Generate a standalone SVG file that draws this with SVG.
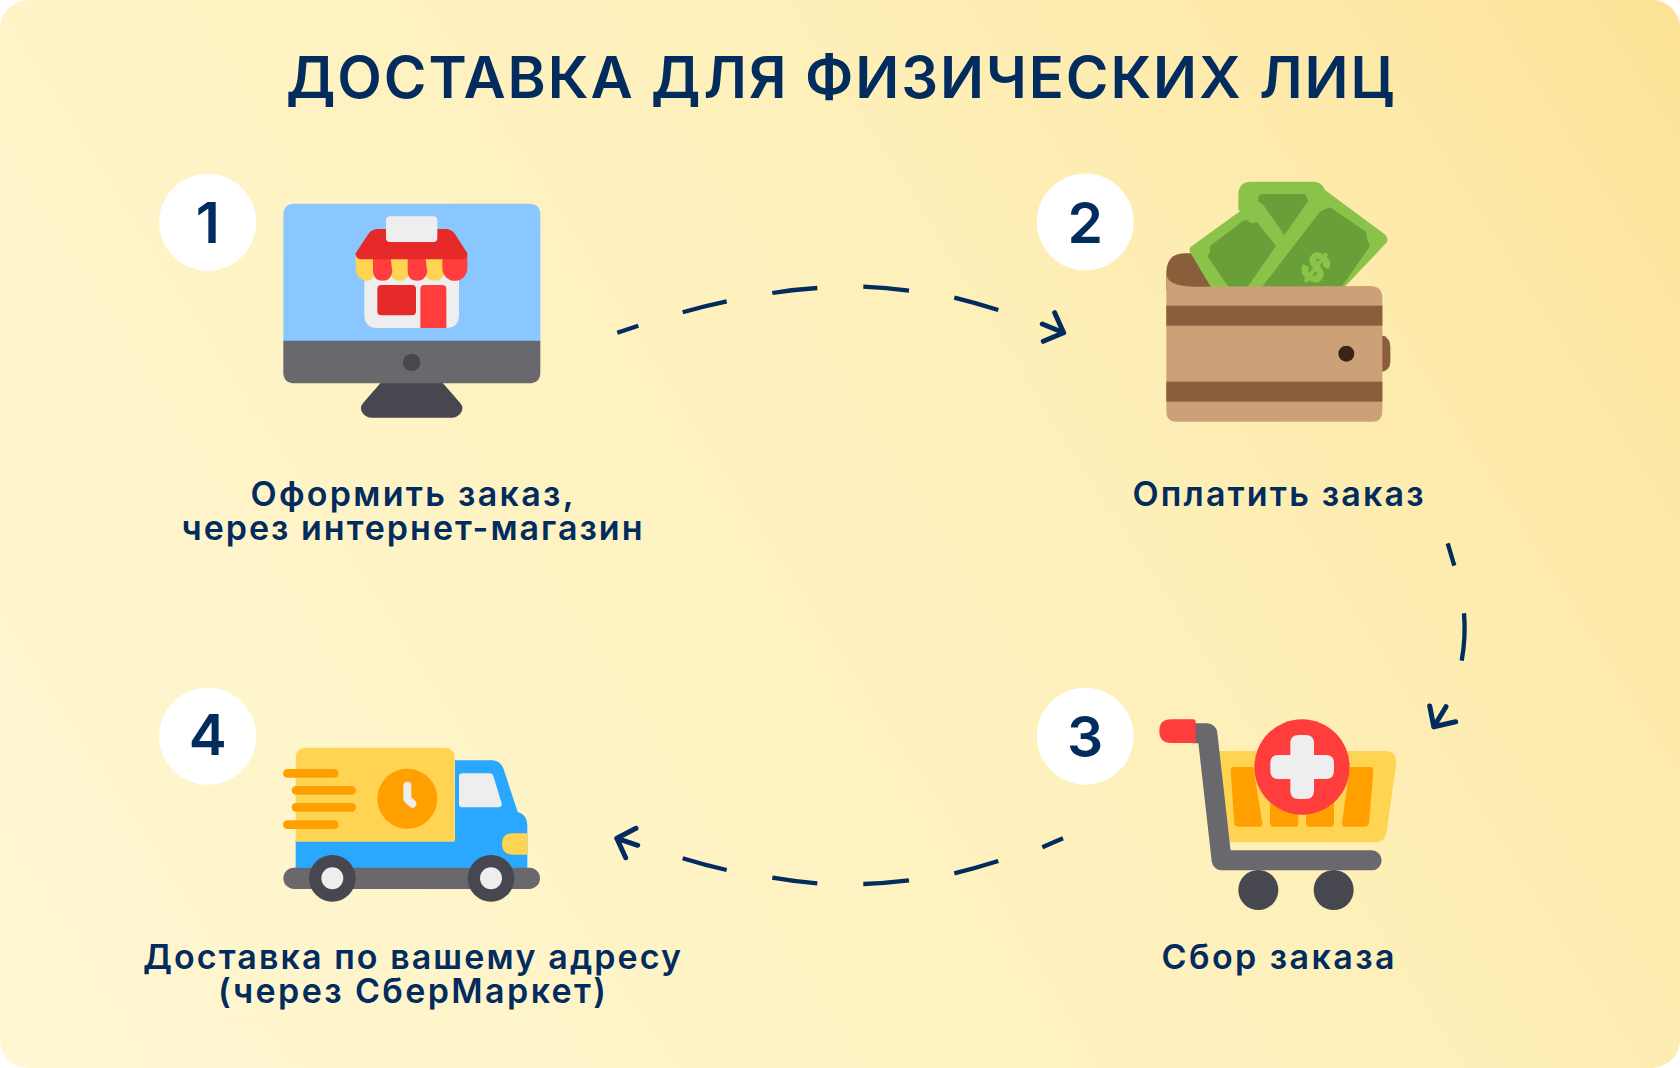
<svg xmlns="http://www.w3.org/2000/svg" width="1680" height="1068" viewBox="0 0 1680 1068">
<style>
text{font-family:"Inter","Noto Sans","Liberation Sans",sans-serif;fill:#022b5e}
.t{font-size:58px;font-weight:600}
.l{font-size:34px;font-weight:600;text-anchor:middle}
.n{font-size:57px;font-weight:600;text-anchor:middle}
.c{fill:#fff}
.con{fill:none;stroke:#022b5e;stroke-width:4.3}
.arr{stroke-linejoin:round;stroke-linecap:round;stroke-width:5}
.gy{fill:#69686d}.dk{fill:#47474f}.wh{fill:#eee}.ye{fill:#ffd452}.or{fill:#ffa000}.re{fill:#ff3d3d}.dr{fill:#e62a2a}
.br{fill:#8a5d3b}.ta{fill:#cda177}.lg{fill:#8bc34a}.dg{fill:#689f38}.bl{fill:#2aa7ff}
</style>
<defs>
<linearGradient id="bg" gradientUnits="userSpaceOnUse" x1="0" y1="1068" x2="1680" y2="0">
<stop offset="0" stop-color="#fff7d3"/>
<stop offset=".6" stop-color="#fef0ba"/>
<stop offset=".85" stop-color="#fde9a8"/>
<stop offset="1" stop-color="#fde295"/>
</linearGradient>
</defs>
<rect width="1680" height="1068" fill="#fff"/>
<rect id="background" width="1680" height="1068" rx="28" fill="url(#bg)"/>
<text id="title" class="t" x="286" y="98" textLength="1108" lengthAdjust="spacing">ДОСТАВКА ДЛЯ ФИЗИЧЕСКИХ ЛИЦ</text>

<g id="connectors" class="con">
<path d="M617.3 332.7L638.3 325.7M682.7 312.3Q704 306 726.7 301.3M772.3 293Q794 289.5 817.3 288M863.3 286.7Q886 287.5 909 290.7M954.3 297.7Q976 303 998.3 310"/>
<path class="arr" d="M1054.7 312.7L1063.6 332.7L1043.3 341.3M1042.3 324L1063.6 332.7"/>
<path d="M1447.7 543.3L1454.3 565.7M1464 613.3Q1466 637 1461.7 660.7"/>
<path class="arr" d="M1429.7 706L1433.8 726.8L1455.7 721.7M1446 706.7L1433.8 726.8"/>
<path d="M1063 838.3L1042.3 847.3M998.3 861Q976 868 954.3 873.3M909 880.3Q886 883 863.3 884M817.3 883.3Q794 881.5 772.3 877.7M726.7 870Q704 865 682.7 858.3"/>
<path class="arr" d="M636 828.3L616.8 838.3L625.7 857.7M637.7 845.3L616.8 838.3"/>
</g>

<g id="step1">
<circle class="c" cx="207.7" cy="222.2" r="48.5"/>
<text class="n" x="207.7" y="243.3">1</text>
<g transform="translate(150 160) scale(.33333)">
<path class="dk" d="M695 665L875 665L930 728Q945 745 930 762Q920 773 905 773L665 773Q650 773 640 762Q625 745 640 728Z"/>
<path fill="#8ac6ff" d="M400 165Q400 131 434 131L1137 131Q1171 131 1171 165L1171 545L400 545Z"/>
<path class="gy" d="M400 542L1171 542L1171 636Q1171 670 1137 670L434 670Q400 670 400 636Z"/>
<circle class="dk" cx="785" cy="607" r="26"/>
<path class="wh" d="M643 340L927 340L927 464Q927 504 887 504L683 504Q643 504 643 464Z"/>
<rect class="dr" x="682" y="375" width="116" height="91" rx="12"/>
<path class="re" d="M811 387Q811 375 823 375L877 375Q889 375 889 387L889 504L811 504Z"/>
<path class="ye" d="M617 285L669 285L675 325Q672 362 655 362Q617 362 617 320Z"/>
<path class="ye" d="M721 285L773 285L780 335Q772 362 750 362Q722 362 721 335Z"/>
<path class="ye" d="M825 285L877 285L885 335Q877 362 855 362Q827 362 825 335Z"/>
<path class="re" d="M669 285L721 285L727 335Q722 362 698 362Q672 362 669 335Z"/>
<path class="re" d="M773 285L825 285L832 335Q825 362 802 362Q775 362 773 335Z"/>
<path class="re" d="M877 285L952 285L952 325A37 37 0 0 1 877 325Z"/>
<path class="dr" d="M617 280L655 222Q665 207 685 207L885 207Q905 207 915 222L952 280Q952 298 935 298L635 298Q617 298 617 280Z"/>
<rect class="wh" x="708" y="169" width="154" height="77" rx="12"/>
</g>
</g>
<text class="l" x="412" y="506" textLength="323" lengthAdjust="spacing">Оформить заказ,</text>
<text class="l" x="412" y="540" textLength="461" lengthAdjust="spacing">через интернет-магазин</text>

<g id="step2">
<circle class="c" cx="1085.2" cy="222" r="48.5"/>
<text class="n" x="1085.2" y="242.7">2</text>
<g transform="translate(1030 160) scale(.33333)">
<path class="br" d="M409 340Q409 280 465 280L560 280L560 390L409 390Z"/>
<path class="br" d="M1050 525Q1081 530 1081 560L1081 605Q1081 632 1050 637Z"/>
<path class="lg" d="M625 105Q625 65 665 65L850 65Q875 65 885 90L860 180L760 270L700 180L625 150Z"/>
<path class="dg" d="M685 112Q688 102 698 102L825 102L835 122L763 225L700 135L685 125Z"/>
<path class="lg" d="M490 255L665 128Q685 118 697 140L765 255L650 390L548 390L482 280Q472 265 490 255Z"/>
<path class="dg" d="M540 258L640 182L650 180L665 190L680 185L738 258L650 385L598 385L533 290L540 275Z"/>
<path class="lg" d="M885 90L1060 220Q1080 235 1068 250L935 390L650 390L860 100Q870 80 885 90Z"/>
<path class="dg" d="M693 385L870 155L880 150L900 142L1008 215L1012 240L1020 258L932 385Z"/>
<text transform="translate(858 322) rotate(37)" x="0" y="43" text-anchor="middle" font-size="125" font-weight="700" stroke="#8bc34a" stroke-width="5" style="fill:#8bc34a;font-family:'Liberation Sans',sans-serif">$</text>
<path class="ta" d="M409 340Q409 378 490 380L1020 378Q1057 378 1057 415L1057 755Q1057 785 1027 785L439 785Q409 785 409 755Z"/>
<rect class="br" x="409" y="437" width="648" height="60"/>
<rect class="br" x="409" y="665" width="648" height="60"/>
<circle fill="#3c2415" cx="949" cy="581" r="24"/>
</g>
</g>
<text class="l" x="1278" y="506" textLength="291" lengthAdjust="spacing">Оплатить заказ</text>

<g id="step3">
<circle class="c" cx="1085.2" cy="736.2" r="48.5"/>
<text class="n" x="1085.2" y="756.7">3</text>
<g transform="translate(1030 680) scale(.33333)">
<path class="ye" d="M560 213L1065 213Q1103 213 1098 255L1070 455Q1065 487 1035 487L600 487Z"/>
<path class="or" d="M602 272Q602 261 612 261L670 261L697 430Q697 440 688 440L625 440Q615 440 613 430Z"/>
<rect class="or" x="720" y="320" width="85" height="120" rx="10"/>
<rect class="or" x="828" y="320" width="84" height="120" rx="10"/>
<path class="or" d="M960 261L1020 261Q1031 261 1030 272L1017 430Q1015 440 1005 440L946 440Q935 440 936 430Z"/>
<circle class="re" cx="816" cy="261" r="143"/>
<path class="wh" d="M781 190Q781 165 806 165L827 165Q852 165 852 190L852 225L888 225Q912 225 912 250L912 272Q912 297 888 297L852 297L852 332Q852 357 827 357L806 357Q781 357 781 332L781 297L745 297Q721 297 721 272L721 250Q721 225 745 225L781 225Z"/>
<path fill="none" stroke="#69686d" stroke-width="60" stroke-linejoin="round" stroke-linecap="round" d="M490 160L532 160L575 541L1025 541"/>
<path class="re" d="M423 118L490 118Q497 118 497 125L497 182Q497 189 490 189L423 189Q388 189 388 153Q388 118 423 118Z"/>
<circle class="dk" cx="685" cy="630" r="60"/>
<circle class="dk" cx="911" cy="630" r="60"/>
</g>
</g>
<text class="l" x="1278" y="969" textLength="233" lengthAdjust="spacing">Сбор заказа</text>

<g id="step4">
<circle class="c" cx="207.7" cy="736.2" r="48.5"/>
<text class="n" x="207.7" y="755">4</text>
<g transform="translate(150 680) scale(.33333)">
<path class="bl" d="M437 480L915 480L915 241L1025 241Q1050 241 1060 265L1103 395Q1132 405 1132 435L1132 570L437 570Z"/>
<path class="ye" d="M437 235Q437 203 470 203L885 203Q914 203 914 235L914 485L437 485Z"/>
<path class="wh" d="M927 290Q927 280 937 280L1020 280Q1028 280 1030 288L1055 370Q1057 382 1045 382L937 382Q927 382 927 372Z"/>
<path class="ye" d="M1132 460L1088 460Q1056 460 1056 492Q1056 524 1088 524L1132 524Z"/>
<circle class="or" cx="772" cy="356" r="90"/>
<path fill="none" stroke="#eee" stroke-width="24" stroke-linecap="round" stroke-linejoin="round" d="M772 317L772 357L787 371"/>
<path fill="none" stroke="#ffa000" stroke-width="26" stroke-linecap="round" d="M412 280L553 280M438 331L605 331M438 382L605 382M412 434L553 434"/>
<rect class="gy" x="400" y="563" width="770" height="64" rx="32"/>
<circle class="dk" cx="547" cy="595" r="70"/>
<circle class="wh" cx="547" cy="595" r="33"/>
<circle class="dk" cx="1023" cy="595" r="70"/>
<circle class="wh" cx="1023" cy="595" r="33"/>
</g>
</g>
<text class="l" x="412" y="969" textLength="538" lengthAdjust="spacing">Доставка по вашему адресу</text>
<text class="l" x="412" y="1003" textLength="388" lengthAdjust="spacing">(через СберМаркет)</text>
</svg>
